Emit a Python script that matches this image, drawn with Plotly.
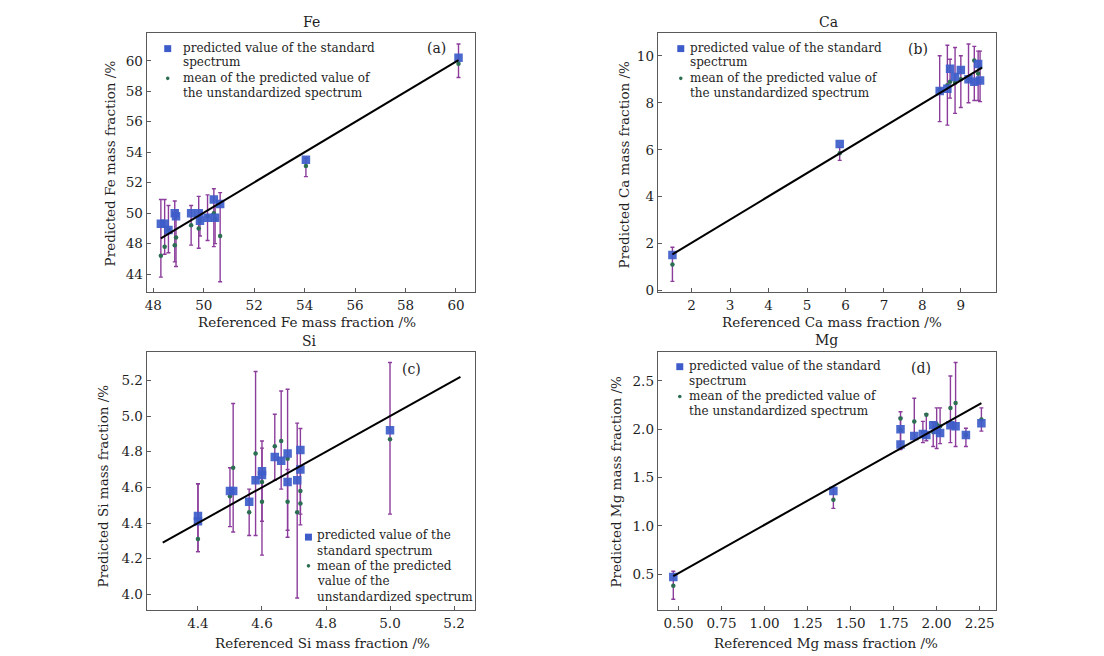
import plotly.graph_objects as go

# ---------------- data ----------------
# Fe
fe_ref  = [48.30, 48.45, 48.60, 48.85, 48.90, 49.50, 49.80, 49.85, 50.15, 50.40, 50.45, 50.65, 54.05, 60.10]
fe_std  = [49.30, 49.30, 48.90, 50.00, 49.80, 50.00, 50.00, 49.50, 49.70, 50.90, 49.70, 50.60, 53.50, 60.20]
fe_mean = [47.20, 47.80, 48.90, 47.90, 48.40, 49.20, 49.00, 49.50, 49.80, 50.00, 49.60, 48.50, 53.10, 59.80]
fe_lo   = [45.80, 47.30, 47.40, 46.80, 46.50, 47.90, 47.70, 48.50, 48.20, 47.80, 48.00, 45.50, 52.40, 58.90]
fe_hi   = [50.90, 50.90, 50.50, 50.80, 50.20, 50.50, 51.10, 50.00, 51.20, 51.60, 50.50, 51.35, 53.60, 61.10]
fe_fit_x = [48.30, 60.10]
fe_fit_y = [48.35, 60.05]
fe_ytick_vals = [46, 48, 50, 52, 54, 56, 58, 60]
fe_ytick_text = ["44", "48", "50", "52", "54", "56", "58", "60"]
fe_xtick_vals = [48, 50, 52, 54, 56, 58, 60]

# Ca
ca_ref  = [1.50, 5.85, 8.45, 8.65, 8.72, 8.85, 9.00, 9.20, 9.35, 9.45, 9.50]
ca_std  = [1.52, 6.25, 8.50, 8.60, 9.45, 9.10, 9.40, 9.00, 8.90, 9.65, 8.95]
ca_mean = [1.12, 5.85, 8.55, 8.75, 8.90, 8.85, 9.00, 9.05, 9.80, 9.25, 9.50]
ca_lo   = [0.40, 5.55, 7.20, 7.05, 8.20, 7.55, 7.80, 8.00, 8.10, 8.10, 8.05]
ca_hi   = [1.85, 6.10, 10.00, 10.45, 9.85, 10.35, 10.00, 10.50, 10.40, 10.20, 10.20]
ca_fit_x = [1.50, 9.55]
ca_fit_y = [1.55, 9.50]
ca_ytick_vals = [0, 2, 4, 6, 8, 10]
ca_xtick_vals = [2, 3, 4, 5, 6, 7, 8, 9]

# Si
si_ref  = [4.40, 4.40, 4.50, 4.51, 4.56, 4.58, 4.60, 4.60, 4.64, 4.66, 4.68, 4.68, 4.71, 4.72, 4.72, 5.00]
si_std  = [4.44, 4.41, 4.58, 4.58, 4.52, 4.64, 4.69, 4.67, 4.77, 4.75, 4.79, 4.63, 4.64, 4.81, 4.70, 4.92]
si_mean = [4.42, 4.31, 4.55, 4.71, 4.46, 4.79, 4.52, 4.63, 4.83, 4.86, 4.76, 4.52, 4.46, 4.58, 4.51, 4.87]
si_lo   = [4.24, 4.24, 4.38, 4.35, 4.33, 4.33, 4.22, 4.41, 4.64, 4.59, 4.32, 4.36, 3.98, 4.39, 4.45, 4.45]
si_hi   = [4.62, 4.62, 4.71, 5.07, 4.59, 5.25, 4.86, 4.82, 5.01, 5.14, 5.15, 4.70, 4.96, 4.93, 4.70, 5.30]
si_fit_x = [4.29, 5.22]
si_fit_y = [4.29, 5.22]
si_ytick_vals = [4.0, 4.2, 4.4, 4.6, 4.8, 5.0, 5.2]
si_xtick_vals = [4.4, 4.6, 4.8, 5.0, 5.2]

# Mg
mg_ref  = [0.47, 1.40, 1.79, 1.79, 1.87, 1.92, 1.94, 1.98, 2.00, 2.02, 2.08, 2.11, 2.17, 2.26]
mg_std  = [0.47, 1.36, 1.84, 2.00, 1.93, 1.95, 1.94, 2.04, 1.99, 1.96, 2.04, 2.03, 1.94, 2.06]
mg_mean = [0.38, 1.27, 2.11, 1.99, 2.08, 1.97, 2.15, 1.97, 2.05, 2.03, 2.22, 2.27, 1.94, 2.10]
mg_lo   = [0.24, 1.18, 1.79, 1.80, 1.90, 1.86, 1.88, 1.82, 1.80, 1.85, 1.86, 1.82, 1.82, 1.98]
mg_hi   = [0.53, 1.40, 2.18, 2.12, 2.32, 2.08, 2.16, 2.07, 2.22, 2.22, 2.55, 2.69, 2.01, 2.22]
mg_fit_x = [0.47, 2.26]
mg_fit_y = [0.48, 2.27]
mg_ytick_vals = [0.5, 1.0, 1.5, 2.0, 2.5]
mg_xtick_vals = [0.50, 0.75, 1.00, 1.25, 1.50, 1.75, 2.00, 2.25]

titles = ["Fe", "Ca", "Si", "Mg"]
panel_tags = ["(a)", "(b)", "(c)", "(d)"]
legend_std = "predicted value of the standard spectrum"
legend_mean = "mean of the predicted value of the unstandardized spectrum"

# ---------------- style ----------------
W, H = 1104, 656
FONT = "DejaVu Serif"
TXT = "#1e1e1e"
BLUE = "#3d5cc9"
GREEN = "#2c6e52"
PURPLE = "#8c3d9c"

def px(x):
    return x / W

def py(y):
    return 1 - y / H

fig = go.Figure()

panels = [
    dict(ref=fe_ref, std=fe_std, mean=fe_mean, lo=fe_lo, hi=fe_hi, fx=fe_fit_x, fy=fe_fit_y, n=""),
    dict(ref=ca_ref, std=ca_std, mean=ca_mean, lo=ca_lo, hi=ca_hi, fx=ca_fit_x, fy=ca_fit_y, n="2"),
    dict(ref=si_ref, std=si_std, mean=si_mean, lo=si_lo, hi=si_hi, fx=si_fit_x, fy=si_fit_y, n="3"),
    dict(ref=mg_ref, std=mg_std, mean=mg_mean, lo=mg_lo, hi=mg_hi, fx=mg_fit_x, fy=mg_fit_y, n="4"),
]

for p in panels:
    xa, ya = "x" + p["n"], "y" + p["n"]
    up = [h - m for h, m in zip(p["hi"], p["mean"])]
    dn = [m - l for m, l in zip(p["mean"], p["lo"])]
    fig.add_trace(go.Scatter(
        x=p["ref"], y=p["mean"], mode="markers", xaxis=xa, yaxis=ya,
        marker=dict(symbol="circle", size=4.5, color=GREEN),
        error_y=dict(type="data", symmetric=False, array=up, arrayminus=dn,
                     color=PURPLE, thickness=1.4, width=2),
        name=legend_mean, showlegend=False))
    fig.add_trace(go.Scatter(
        x=p["ref"], y=p["std"], mode="markers", xaxis=xa, yaxis=ya,
        marker=dict(symbol="square", size=8.5, color=BLUE, opacity=0.92),
        name=legend_std, showlegend=False))
    fig.add_trace(go.Scatter(
        x=p["fx"], y=p["fy"], mode="lines", xaxis=xa, yaxis=ya,
        line=dict(color="black", width=2), showlegend=False, hoverinfo="skip"))

# panel boxes in pixels (left, right, top, bottom)
boxes = [(137, 466, 25, 287), (649, 988, 25, 287), (137, 466, 347, 608), (649, 988, 347, 608)]
xranges = [[47.74, 60.76], [1.12, 9.92], [4.24, 5.266], [0.38, 2.346]]
yranges = [[44.8, 61.84], [-0.07, 10.98], [3.91, 5.36], [0.124, 2.80]]
xticks = [(fe_xtick_vals, [str(v) for v in fe_xtick_vals]),
          (ca_xtick_vals, [str(v) for v in ca_xtick_vals]),
          (si_xtick_vals, ["%.1f" % v for v in si_xtick_vals]),
          (mg_xtick_vals, ["%.2f" % v for v in mg_xtick_vals])]
yticks = [(fe_ytick_vals, fe_ytick_text),
          (ca_ytick_vals, [str(v) for v in ca_ytick_vals]),
          (si_ytick_vals, ["%.1f" % v for v in si_ytick_vals]),
          (mg_ytick_vals, ["%.1f" % v for v in mg_ytick_vals])]

axis_common = dict(showline=True, mirror=True, linecolor="#5a5a5a", linewidth=1.2,
                   showgrid=False, zeroline=False, ticks="inside", ticklen=4,
                   tickcolor="#5a5a5a", tickfont=dict(family=FONT, size=13.5, color=TXT))
for i, (l, r, t, b) in enumerate(boxes):
    n = "" if i == 0 else str(i + 1)
    fig.layout["xaxis" + n] = dict(domain=[px(l), px(r)], anchor="y" + n, range=xranges[i],
                                   tickmode="array", tickvals=xticks[i][0], ticktext=xticks[i][1],
                                   **axis_common)
    fig.layout["yaxis" + n] = dict(domain=[py(b), py(t)], anchor="x" + n, range=yranges[i],
                                   tickmode="array", tickvals=yticks[i][0], ticktext=yticks[i][1],
                                   **axis_common)

ann = []
def text(s, x, y, size=13, xanchor="center", angle=0):
    ann.append(dict(text=s, x=px(x), y=py(y), xref="paper", yref="paper", showarrow=False,
                    xanchor=xanchor, yanchor="middle", textangle=angle,
                    font=dict(family=FONT, size=size, color=TXT)))

# titles
for s, (x, y) in zip(titles, [(302, 14), (820, 14), (300, 336), (818, 335)]):
    text(s, x, y, 14)
# axis titles
for s, (x, y) in zip(titles, [(298, 317), (823, 317), (313, 641), (817, 641)]):
    text("Referenced %s mass fraction /%%" % s, x, y, 13.5)
for s, (x, y) in zip(titles, [(100, 157), (615, 158), (93, 482), (607, 478)]):
    text("Predicted %s mass fraction /%%" % s, x, y, 13.5, angle=-90)
# panel tags
for s, (x, y) in zip(panel_tags, [(427, 40), (910, 41), (402, 364), (913, 363)]):
    text(s, x, y, 14)

# legends (per panel, line by line)
wrap_a = ["predicted value of the standard", "spectrum",
          "mean of the predicted value of", "the unstandardized spectrum"]
wrap_c = ["predicted value of the", "standard spectrum",
          "mean of the predicted", "value of the", "unstandardized spectrum"]
shapes = []
def key(x, y, kind):
    if kind == "sq":
        shapes.append(dict(type="rect", xref="paper", yref="paper",
                           x0=px(x - 3.5), x1=px(x + 3.5), y0=py(y + 3.5), y1=py(y - 3.5),
                           fillcolor=BLUE, line=dict(width=0)))
    else:
        shapes.append(dict(type="circle", xref="paper", yref="paper",
                           x0=px(x - 1.8), x1=px(x + 1.8), y0=py(y + 1.8), y1=py(y - 1.8),
                           fillcolor=GREEN, line=dict(width=0)))

for kx, tx, ys in [(158, 171, [40, 55, 71, 86]), (672, 679, [40, 55, 71, 86]), (671, 678, [361, 376, 392, 407])]:
    key(kx, ys[0] + 1, "sq")
    key(kx, ys[2], "dot")
    for s, y in zip(wrap_a, ys):
        text(s, tx, y, 12, xanchor="left")
key(299, 534, "sq")
key(299, 563, "dot")
for s, y in zip(wrap_c, [532, 548, 563, 578, 594]):
    text(s, 306, y, 12, xanchor="left")

fig.update_layout(width=W, height=H, margin=dict(l=0, r=0, t=0, b=0),
                  paper_bgcolor="white", plot_bgcolor="white",
                  annotations=ann, shapes=shapes, showlegend=False)
fig.write_html("out.html")
